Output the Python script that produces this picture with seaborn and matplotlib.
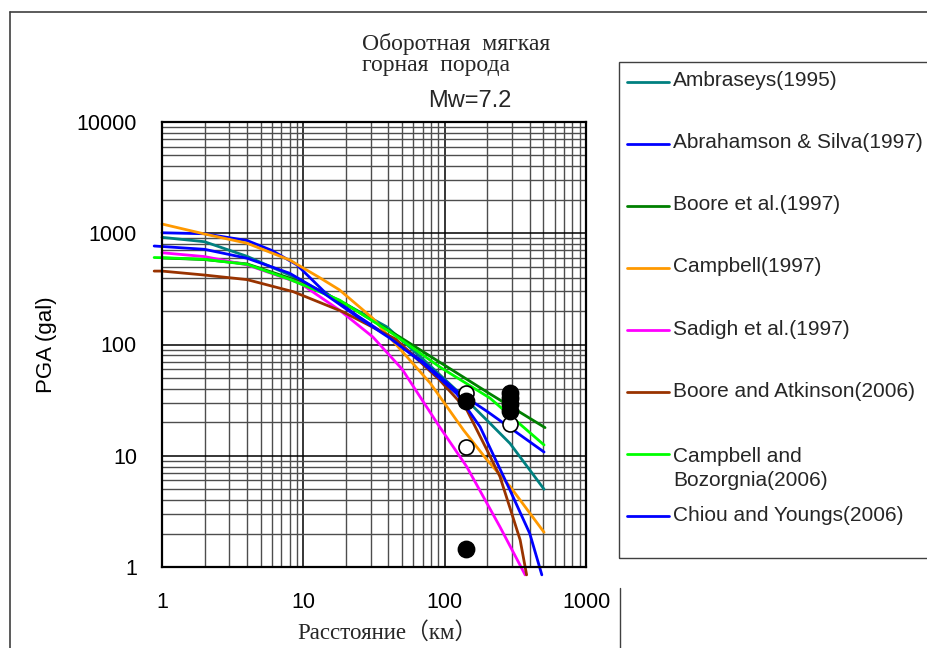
import numpy as np
import pandas as pd
import matplotlib
matplotlib.use("Agg")
import matplotlib.pyplot as plt
import seaborn as sns
from matplotlib import ticker
from matplotlib.lines import Line2D
from matplotlib.patches import Rectangle

# ---------------- data ----------------
models = ["Ambraseys(1995)", "Abrahamson & Silva(1997)", "Boore et al.(1997)",
          "Campbell(1997)", "Sadigh et al.(1997)", "Boore and Atkinson(2006)",
          "Campbell and\nBozorgnia(2006)", "Chiou and Youngs(2006)"]
colors = ["#008080", "#0000FF", "#008000", "#FF9900", "#FF00FF", "#993300",
          "#00FF00", "#0000FF"]

dist_amb = [1, 2, 4, 8.5, 20, 39, 71, 128, 209, 290, 505]
pga_amb = [919, 839, 620, 407, 230, 144, 73, 36.4, 19.6, 12.9, 5.0]

dist_as = [1, 2, 4, 6, 9, 14, 24, 41, 70, 122, 200, 505]
pga_as = [1010, 990, 860, 700, 520, 300, 182, 116, 70, 38, 25, 10.8]

dist_boore = [1, 2, 4, 10, 20, 48, 100, 209, 513]
pga_boore = [600, 580, 530, 360, 230, 117, 65, 36, 17.9]

dist_camp = [1, 2, 4, 8, 13, 18, 31, 48, 79, 136, 199, 290, 505]
pga_camp = [1211, 985, 813, 575, 400, 310, 172, 92, 45, 17, 9.2, 5.3, 2.05]

dist_sad = [1, 2, 4, 9.5, 18, 31, 50, 90, 143, 246, 371]
pga_sad = [668, 617, 519, 355, 204, 117, 60, 19, 8, 2.3, 0.85]

dist_ba = [0.88, 1, 2, 4, 8.5, 19, 45, 92, 143, 199, 246, 298, 342, 380]
pga_ba = [457, 457, 421, 383, 298, 197, 112, 48, 26, 11.3, 6.5, 3.04, 1.75, 0.85]

dist_cb = [0.88, 1, 2, 4, 8, 18, 41, 92, 209, 505]
pga_cb = [605, 603, 583, 525, 385, 251, 130, 63, 33, 12.5]

dist_cy = [0.88, 1, 2, 4, 8, 14, 24, 41, 70, 122, 178, 290, 400, 487]
pga_cy = [768, 760, 717, 596, 437, 288, 178, 114, 68, 36, 18.2, 4.9, 2.0, 0.85]

obs_open_x = [141, 141, 290]
obs_open_y = [37, 12.1, 19.2]
obs_fill_x = [141, 141, 290, 290, 290, 290]
obs_fill_y = [31, 1.44, 37, 33, 29, 25]

xtick_vals = [1, 10, 100, 1000]
ytick_vals = [1, 10, 100, 1000, 10000]

series = [(dist_amb, pga_amb), (dist_as, pga_as), (dist_boore, pga_boore),
          (dist_camp, pga_camp), (dist_sad, pga_sad), (dist_ba, pga_ba),
          (dist_cb, pga_cb), (dist_cy, pga_cy)]
frames = []
for name, (d, p) in zip(models, series):
    frames.append(pd.DataFrame({"model": name, "dist": d, "pga": p}))
curves = pd.concat(frames, ignore_index=True)

# ---------------- style / layout ----------------
sns.set_style("white")
plt.rcParams["font.family"] = ["Liberation Sans", "DejaVu Sans"]

W, H = 927, 648
def fx(px):
    return px / W
def fy(py):
    return 1 - py / H

fig = plt.figure(figsize=(W / 100, H / 100), dpi=100)
fig.patch.set_facecolor("white")
ax = fig.add_axes([fx(162), fy(567), (586 - 162) / W, (567 - 122) / H])
ax.set_xscale("log")
ax.set_yscale("log")

sns.lineplot(data=curves, x="dist", y="pga", hue="model", hue_order=models,
             palette=dict(zip(models, colors)), estimator=None, sort=False,
             linewidth=2.0, legend=False, ax=ax)
for ln in ax.lines:
    ln.set_clip_on(False)

sns.scatterplot(x=obs_open_x, y=obs_open_y, s=117, color="white",
                edgecolor="black", linewidth=1.2, zorder=5, ax=ax, legend=False)
sns.scatterplot(x=obs_fill_x, y=obs_fill_y, s=140, color="black",
                edgecolor="black", linewidth=1.0, zorder=6, ax=ax, legend=False)

ax.set_xlim(1, 1000)
ax.set_ylim(1, 10000)
ax.xaxis.set_major_locator(ticker.FixedLocator(xtick_vals))
ax.yaxis.set_major_locator(ticker.FixedLocator(ytick_vals))
ax.xaxis.set_minor_locator(ticker.LogLocator(base=10, subs=np.arange(2, 10), numticks=100))
ax.yaxis.set_minor_locator(ticker.LogLocator(base=10, subs=np.arange(2, 10), numticks=100))
fmt = ticker.FuncFormatter(lambda v, p: f"{v:g}")
ax.xaxis.set_major_formatter(fmt)
ax.yaxis.set_major_formatter(fmt)
ax.xaxis.set_minor_formatter(ticker.NullFormatter())
ax.yaxis.set_minor_formatter(ticker.NullFormatter())

ax.set_axisbelow(True)
ax.grid(True, which="major", color="black", linewidth=1.1)
ax.grid(True, which="minor", color="0.3", linewidth=1.0)
ax.tick_params(which="both", length=0)
ax.tick_params(axis="y", pad=18, labelsize=15.5, colors="black")
ax.tick_params(axis="x", pad=18, labelsize=15.5, colors="black")
for s in ax.spines.values():
    s.set_color("black")
    s.set_linewidth(1.6)

ax.set_xlabel("")
ax.set_ylabel("PGA (gal)", fontsize=16, color="black")
ax.yaxis.set_label_coords((57 - 162) / 424, 0.5)

fig.text(fx(387), fy(639), "Расстояние（км）", ha="center", va="baseline",
         fontsize=16.5, family=["Liberation Serif", "Noto Sans CJK JP"])

# titles
fig.text(fx(362), fy(50), "Оборотная  мягкая", ha="left", va="baseline",
         fontsize=17, family=["Liberation Serif", "DejaVu Serif"])
fig.text(fx(362), fy(70.5), "горная  порода", ha="left", va="baseline",
         fontsize=17, family=["Liberation Serif", "DejaVu Serif"])
fig.text(fx(470), fy(107), "Mw=7.2", ha="center", va="baseline", fontsize=17)

# legend box (drawn manually to keep the reference's fixed entry pitch)
fig.patches.append(Rectangle((fx(619), fy(558)), (960 - 619) / W, (558 - 62) / H,
                             transform=fig.transFigure, fill=False,
                             edgecolor="#404040", linewidth=1.0))
y0, pitch, line_px = 81.7, 62.1, 27.4
for i, (name, col) in enumerate(zip(models, colors)):
    yy = y0 + i * pitch
    fig.lines.append(Line2D([fx(627), fx(669)], [fy(yy), fy(yy)],
                            transform=fig.transFigure, color=col, linewidth=2.0))
    # baseline alignment refers to the last line of a multi-line label
    extra = (name.count("\n")) * line_px
    fig.text(fx(673), fy(yy + 4.5 + extra), name, ha="left", va="baseline",
             fontsize=15, linespacing=1.33)

# outer frame
fig.lines.append(Line2D([fx(10), fx(927)], [fy(12), fy(12)], transform=fig.transFigure,
                        color="#404040", linewidth=1.2))
fig.lines.append(Line2D([fx(10), fx(10)], [fy(12), fy(648)], transform=fig.transFigure,
                        color="#404040", linewidth=1.2))
fig.lines.append(Line2D([fx(620), fx(620)], [fy(588), fy(648)], transform=fig.transFigure,
                        color="#404040", linewidth=1.0))

fig.savefig("out.png", dpi=100, facecolor="white")
